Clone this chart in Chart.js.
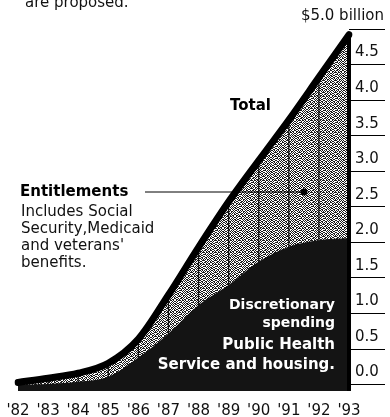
<!DOCTYPE html>
<html>
<head>
<meta charset="utf-8">
<script src="https://cdn.jsdelivr.net/npm/chart.js@4"></script>
<style>
html, body { margin: 0; padding: 0; background: #fff; }
canvas { display: block; }
</style>
</head>
<body>
<canvas id="grafico" width="390" height="417"></canvas>
<script>
// Datos (miles de millones de dolares)
var years = ["'82", "'83", "'84", "'85", "'86", "'87", "'88", "'89", "'90", "'91", "'92", "'93"];
var total = [0.03, 0.09, 0.16, 0.30, 0.64, 1.26, 1.93, 2.57, 3.15, 3.72, 4.32, 4.92];
var discretionary = [0.00, 0.01, 0.04, 0.11, 0.38, 0.72, 1.12, 1.40, 1.73, 1.94, 2.03, 2.06];
var yTicks = [0, 0.5, 1, 1.5, 2, 2.5, 3, 3.5, 4, 4.5, 5];

var fuente = "DejaVu Sans";

// trama punteada para el area de entitlements
function crearPunteado() {
    var filas = [
        "101101001011",
        "010010110100",
        "110101001001",
        "001010110110",
        "100101011001",
        "011010100110",
        "101001011010",
        "010110100101",
        "100101010011",
        "011010101100",
        "110100110010",
        "001011001101"
    ];
    var n = filas.length;
    var c = document.createElement("canvas");
    c.width = n;
    c.height = n;
    var g = c.getContext("2d");
    g.fillStyle = "#ffffff";
    g.fillRect(0, 0, n, n);
    g.fillStyle = "#1a1a1a";
    for (var y = 0; y < n; y++) {
        for (var x = 0; x < n; x++) {
            if (filas[y][x] === "1") g.fillRect(x, y, 1, 1);
        }
    }
    return g.createPattern(c, "repeat");
}

function texto(ctx, t, x, y, peso, tam, align, color) {
    ctx.font = peso + " " + tam + "px '" + fuente + "'";
    ctx.textAlign = align;
    ctx.textBaseline = "middle";
    ctx.fillStyle = color;
    ctx.fillText(t, x, y);
}

var rejilla = {
    id: "rejilla",
    afterDatasetDraw: function (chart, args) {
        // lineas verticales sobre el area gris, antes del area negra
        if (args.index !== 2) return;
        var ctx = chart.ctx;
        var xs = chart.scales.x, ys = chart.scales.y;
        ctx.save();
        ctx.strokeStyle = "#111";
        ctx.lineWidth = 1.3;
        for (var i = 1; i < years.length - 1; i++) {
            var px = xs.getPixelForValue(i);
            ctx.beginPath();
            ctx.moveTo(px, ys.getPixelForValue(total[i]));
            ctx.lineTo(px, chart.chartArea.bottom);
            ctx.stroke();
        }
        ctx.restore();
    },
    afterDatasetsDraw: function (chart) {
        var ctx = chart.ctx;
        var xs = chart.scales.x, ys = chart.scales.y;
        var n = years.length - 1;
        ctx.save();
        // borde derecho grueso
        var px = xs.getPixelForValue(n);
        ctx.strokeStyle = "#000";
        ctx.lineWidth = 4;
        ctx.beginPath();
        ctx.moveTo(px, ys.getPixelForValue(total[n]));
        ctx.lineTo(px, chart.chartArea.bottom);
        ctx.stroke();

        // textos
        texto(ctx, "are proposed.", 25, 3, "normal", 15, "left", "#111");
        texto(ctx, "$5.0 billion", 384, ys.getPixelForValue(5) - 13, "normal", 15, "right", "#111");
        texto(ctx, "Total", 230, 106, "bold", 15, "left", "#000");
        texto(ctx, "Entitlements", 20, 192, "bold", 15, "left", "#000");
        var notas = ["Includes Social", "Security,Medicaid", "and veterans'", "benefits."];
        for (var i = 0; i < notas.length; i++) {
            texto(ctx, notas[i], 21, 212 + i * 17, "normal", 15, "left", "#111");
        }
        // linea guia
        ctx.strokeStyle = "#000";
        ctx.lineWidth = 1;
        ctx.beginPath();
        ctx.moveTo(145, 192);
        ctx.lineTo(302, 192);
        ctx.stroke();
        ctx.fillStyle = "#000";
        ctx.beginPath();
        ctx.arc(304, 192, 3.5, 0, Math.PI * 2);
        ctx.fill();

        texto(ctx, "Discretionary", 335, 305, "bold", 14, "right", "#fff");
        texto(ctx, "spending", 335, 323, "bold", 14, "right", "#fff");
        texto(ctx, "Public Health", 335, 345, "bold", 15, "right", "#fff");
        texto(ctx, "Service and housing.", 335, 365, "bold", 15, "right", "#fff");
        ctx.restore();
    }
};

var ctx = document.getElementById("grafico").getContext("2d");
var grafico = new Chart(ctx, {
    type: "line",
    data: {
        labels: years,
        datasets: [{
            label: "Total",
            data: total,
            borderColor: "#000",
            borderWidth: 7,
            borderCapStyle: "round",
            borderJoinStyle: "round",
            cubicInterpolationMode: "monotone",
            pointRadius: 0,
            fill: false
        }, {
            label: "Discretionary spending",
            data: discretionary,
            borderWidth: 0,
            borderColor: "rgba(0,0,0,0)",
            backgroundColor: "#141414",
            cubicInterpolationMode: "monotone",
            pointRadius: 0,
            fill: "start"
        }, {
            label: "Entitlements",
            data: total,
            borderWidth: 0,
            borderColor: "rgba(0,0,0,0)",
            backgroundColor: crearPunteado(),
            cubicInterpolationMode: "monotone",
            pointRadius: 0,
            fill: "start"
        }]
    },
    options: {
        responsive: false,
        animation: false,
        layout: { padding: { top: 29, left: 18, right: 0, bottom: 0 } },
        plugins: {
            legend: { display: false },
            tooltip: { enabled: false }
        },
        scales: {
            x: {
                grid: { display: false },
                border: { display: false },
                ticks: {
                    color: "#111",
                    padding: 3,
                    maxRotation: 0,
                    autoSkip: false,
                    font: { family: fuente, size: 15 }
                },
                afterFit: function (s) { s.height = 26; }
            },
            y: {
                position: "right",
                min: -0.09,
                max: 5,
                afterBuildTicks: function (s) {
                    s.ticks = yTicks.map(function (v) { return { value: v }; });
                },
                grid: {
                    drawOnChartArea: false,
                    drawTicks: true,
                    tickLength: 36,
                    color: "#000",
                    lineWidth: 1
                },
                border: { display: false },
                ticks: {
                    color: "#111",
                    padding: -30,
                    labelOffset: -12,
                    font: { family: fuente, size: 15 },
                    callback: function (v) { return v === 5 ? "" : v.toFixed(1); }
                },
                afterFit: function (s) { s.width = 41; }
            }
        }
    },
    plugins: [rejilla]
});
</script>
</body>
</html>
